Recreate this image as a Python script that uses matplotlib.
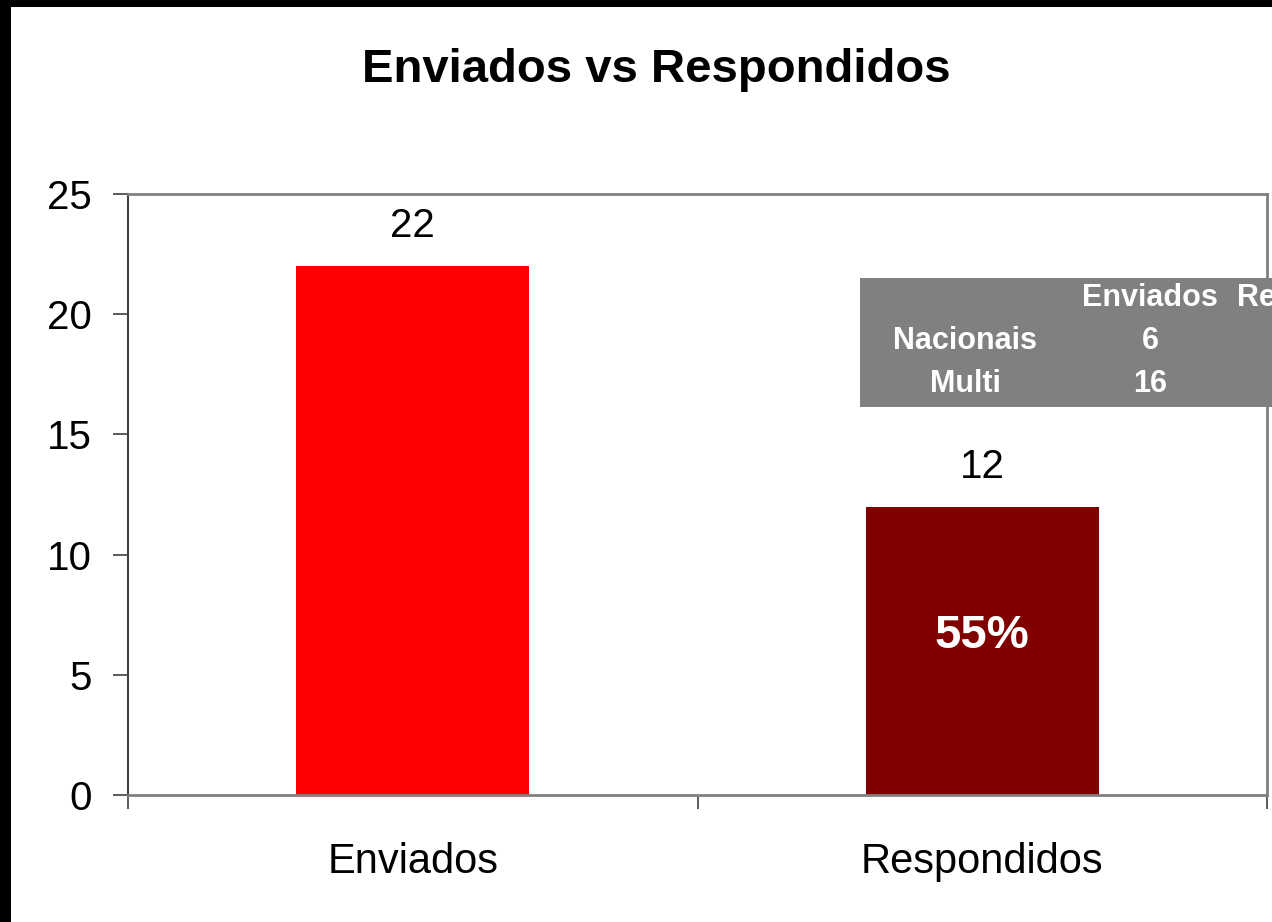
import matplotlib
matplotlib.use("Agg")
import matplotlib.pyplot as plt
from matplotlib.patches import Rectangle

categories = ["Enviados", "Respondidos"]
values = [22, 12]
bar_colors = ["#FF0000", "#800000"]
pct_label = "55%"
yticks = [0, 5, 10, 15, 20, 25]
title = "Enviados vs Respondidos"
table_cols = ["Enviados", "Respondidos"]
table_rows = ["Nacionais", "Multi"]
table_enviados = [6, 16]

plt.rcParams['font.family'] = ['Liberation Sans', 'DejaVu Sans']

W, H = 1272, 922
fig = plt.figure(figsize=(W / 100, H / 100), dpi=100)
fig.patch.set_facecolor("white")

def fx(px):
    return px / W

def fy(py):
    return 1 - py / H

ax = fig.add_axes([fx(128), fy(795), fx(1267) - fx(128), fy(194) - fy(795)])
x = list(range(len(categories)))
ax.bar(x, values, width=0.41, color=bar_colors, zorder=2)
ax.set_xlim(-0.5, 1.5)
ax.set_ylim(0, 25)
ax.set_yticks(yticks)
ax.set_xticks(x)
ax.set_xticklabels(categories, fontsize=30)
ax.set_xticks([-0.5, 0.5, 1.5], minor=True)
ax.tick_params(axis='x', which='major', length=0, pad=34)
ax.tick_params(axis='x', which='minor', length=10, width=1.2, color="#404040", direction='out')
ax.tick_params(axis='y', which='major', length=11, width=1.2, color="#404040", pad=15, labelsize=29)
for s in ["top", "right", "bottom"]:
    ax.spines[s].set_color("#808080")
    ax.spines[s].set_linewidth(2)
ax.spines["left"].set_color("#404040")
ax.spines["left"].set_linewidth(1.5)

for xi, v in zip(x, values):
    ax.annotate(str(v), (xi, v), xytext=(0, 15), textcoords='offset points',
                ha='center', va='bottom', fontsize=29)
ax.text(1, values[1] * 0.55, pct_label, ha='center', va='center',
        fontsize=34, fontweight='bold', color='white')

fig.text(fx(656), fy(70), title, ha='center', va='center', fontsize=34, fontweight='bold')

# table box
fig.patches.append(Rectangle((fx(860), fy(407)), fx(1272) - fx(860) + 0.01, fy(278) - fy(407),
                             transform=fig.transFigure, facecolor="#808080", edgecolor="none", zorder=5))
tkw = dict(color='white', fontweight='bold', fontsize=22, va='center', zorder=6)
fig.text(fx(1150), fy(298), table_cols[0], ha='center', **tkw)
fig.text(fx(1237), fy(298), table_cols[1], ha='left', **tkw)
for i, (r, v) in enumerate(zip(table_rows, table_enviados)):
    yy = [341, 384][i]
    fig.text(fx(965), fy(yy), r, ha='center', **tkw)
    fig.text(fx(1150), fy(yy), str(v), ha='center', **tkw)

# black frame pieces
fig.patches.append(Rectangle((0, 0), fx(11), 1, transform=fig.transFigure, facecolor='black', edgecolor='none', zorder=10))
fig.patches.append(Rectangle((0, fy(7)), 1, 1 - fy(7), transform=fig.transFigure, facecolor='black', edgecolor='none', zorder=10))

fig.savefig("out.png", dpi=100)
